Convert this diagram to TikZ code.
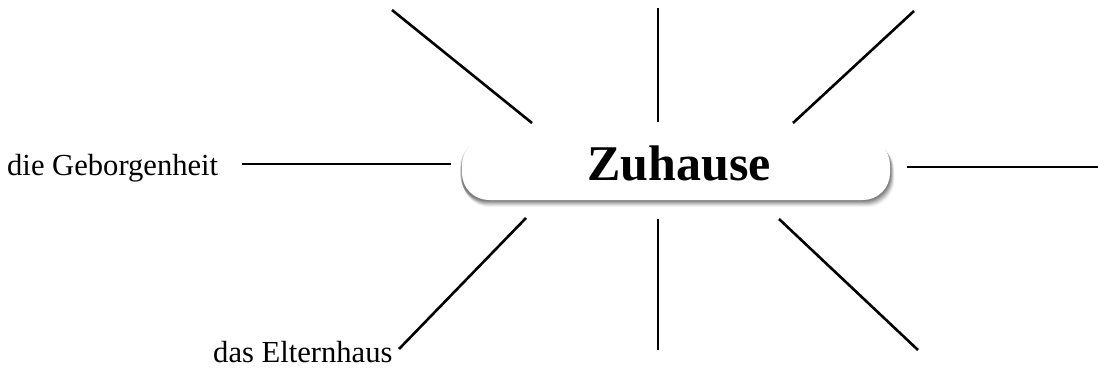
\documentclass[tikz,border=0pt]{standalone}
\usepackage{fontspec}
\setmainfont{Liberation Serif}
\usetikzlibrary{backgrounds}
\begin{document}
\begin{tikzpicture}[x=1pt,y=-1pt,
  ray/.style={line width=2.6pt,black},
  hubbox/.style={draw=none,fill=white,rounded corners=27pt,minimum width=428pt,minimum height=62pt,
     inner sep=0pt,font=\fontsize{50}{50}\selectfont\bfseries,text height=34pt,text depth=12pt},
  wordlabel/.style={anchor=base west,inner sep=0pt,font=\fontsize{30.6}{31}\selectfont}
]
\useasboundingbox (0,0) rectangle (1098,367);
% hub
\node[hubbox] (hub) at (676,169) {\hspace*{6pt}Zuhause};
\begin{scope}[on background layer]
  \fill[white] (0,0) rectangle (1098,367);
  \foreach \k/\op in {1/0.12,2/0.12,3/0.11,4/0.10,5/0.08,6/0.06,7/0.04}{
    \fill[black,opacity=\op,rounded corners=27pt]
      ([xshift=-2pt+0.4*\k pt,yshift=-1.5pt-0.6*\k pt]hub.north west) rectangle
      ([xshift=0.6*\k pt,yshift=-1.0*\k pt]hub.south east);
  }
\end{scope}
% labels
\node[wordlabel] (geb) at (7,175) {die Geborgenheit};
\node[wordlabel] (elt) at (213,362) {das Elternhaus};
% ray end points
\coordinate (tlA) at (392,10);   \coordinate (tlB) at (532,123);
\coordinate (tmA) at (658,8);    \coordinate (tmB) at (658,122);
\coordinate (trA) at (914,11);   \coordinate (trB) at (793,123);
\coordinate (lA)  at (242,164);  \coordinate (lB)  at (451,164);
\coordinate (rA)  at (907,167);  \coordinate (rB)  at (1098,167);
\coordinate (blA) at (526,218);  \coordinate (blB) at (399,349);
\coordinate (bmA) at (658,219);  \coordinate (bmB) at (658,350);
\coordinate (brA) at (779,219);  \coordinate (brB) at (918,350);
% rays
\draw[ray] (tlA) -- (tlB);
\draw[ray] (tmA) -- (tmB);
\draw[ray] (trA) -- (trB);
\draw[ray] (lA) -- (lB);
\draw[ray] (rA) -- (rB);
\draw[ray] (blA) -- (blB);
\draw[ray] (bmA) -- (bmB);
\draw[ray] (brA) -- (brB);
\end{tikzpicture}
\end{document}
